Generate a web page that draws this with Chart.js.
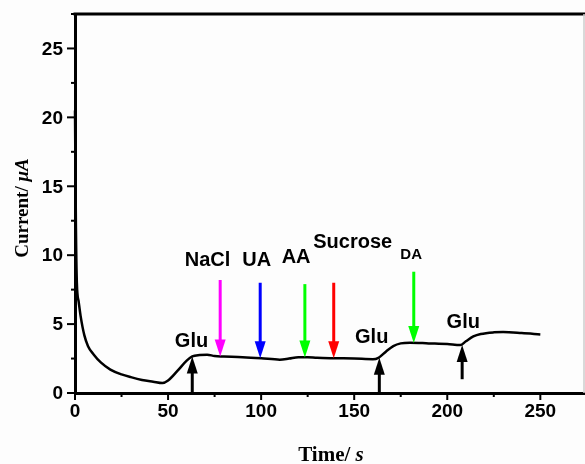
<!DOCTYPE html>
<html>
<head>
<meta charset="utf-8">
<script src="https://cdn.jsdelivr.net/npm/chart.js@4/dist/chart.umd.min.js"></script>
<style>
  html, body { margin: 0; padding: 0; background: #fdfdfd; }
  #wrap { width: 585px; height: 464px; position: relative; }
</style>
</head>
<body>
<div id="wrap"><canvas id="myChart" width="585" height="464"></canvas></div>
<script>
// curve
var tempo = [0, 0.5, 1, 2, 3, 5, 7, 10, 14, 19, 25, 30, 36, 42, 47, 50, 55, 60, 63, 67, 71, 75, 80, 90, 100, 110, 115, 120, 125, 130, 140, 150, 160, 163, 167, 171, 175, 180, 190, 200, 207, 210, 214, 218, 225, 230, 240, 250]
var corrente = [20.5, 12, 8, 6.6, 5.6, 4.2, 3.4, 2.8, 2.2, 1.7, 1.35, 1.15, 0.95, 0.82, 0.72, 0.9, 1.6, 2.35, 2.65, 2.75, 2.78, 2.68, 2.65, 2.6, 2.52, 2.42, 2.5, 2.6, 2.6, 2.55, 2.52, 2.5, 2.45, 2.55, 3.0, 3.4, 3.6, 3.65, 3.6, 3.55, 3.48, 3.75, 4.1, 4.28, 4.4, 4.42, 4.35, 4.25]

// injection arrows (time, start, end of arrow)
var setaNomes = ['NaCl', 'UA', 'AA', 'Sucrose', 'DA', 'Glu', 'Glu', 'Glu']
var setaTempo = [78, 99.5, 123.5, 139, 182, 63, 163.5, 208]
var setaInicio = [8.2, 8.0, 7.9, 8.0, 8.8, 0, 0, 1.0]
var setaFim = [2.65, 2.52, 2.58, 2.52, 3.62, 2.65, 2.55, 3.48]
var setaCores = ['#ff00ff', '#0000ff', '#00ff00', '#ff0000', '#00ff00', '#000000', '#000000', '#000000']
// label anchor (time, value) for each arrow
var rotuloTempo = [71.2, 97.6, 118.8, 149.2, 180.6, 62.6, 159.4, 208.6]
var rotuloValor = [9.6, 9.6, 9.8, 10.9, 10.0, 3.75, 4.05, 5.15]

var xTicksMaiores = [0, 50, 100, 150, 200, 250]
var yTicksMaiores = [0, 5, 10, 15, 20, 25]

var pontos = []
for (var i = 0; i < tempo.length; i++) {
    pontos.push({ x: tempo[i], y: corrente[i] })
}

var fonteTick = 'bold 19px "Liberation Sans", Arial, sans-serif'

const desenhoExtra = {
    id: 'desenhoExtra',
    afterDraw(chart) {
        const ctx = chart.ctx
        const xs = chart.scales.x
        const ys = chart.scales.y
        const area = chart.chartArea
        ctx.save()

        // frame: top line and faint right line
        ctx.strokeStyle = '#000'
        ctx.lineWidth = 3
        ctx.beginPath()
        ctx.moveTo(area.left - 1.5, area.top)
        ctx.lineTo(area.right, area.top)
        ctx.stroke()
        ctx.strokeStyle = '#cccccc'
        ctx.lineWidth = 1.5
        ctx.beginPath()
        ctx.moveTo(area.right - 1, area.top)
        ctx.lineTo(area.right - 1, area.bottom)
        ctx.stroke()

        // outward ticks, major and minor
        ctx.strokeStyle = '#000'
        ctx.lineWidth = 2
        for (var v = 0; v <= 27.5; v += 2.5) {
            var py = ys.getPixelForValue(v)
            var len = (v % 5 === 0) ? 8 : 4
            ctx.beginPath()
            ctx.moveTo(area.left, py)
            ctx.lineTo(area.left - len, py)
            ctx.stroke()
        }
        for (var t = 0; t <= 274; t += 25) {
            var px = xs.getPixelForValue(t)
            var len2 = (t % 50 === 0) ? 7 : 4
            ctx.beginPath()
            ctx.moveTo(px, area.bottom)
            ctx.lineTo(px, area.bottom + len2)
            ctx.stroke()
        }

        // tick labels
        ctx.fillStyle = '#000'
        ctx.font = fonteTick
        ctx.textAlign = 'right'
        ctx.textBaseline = 'middle'
        yTicksMaiores.forEach(function (v) {
            ctx.fillText(String(v), area.left - 12, ys.getPixelForValue(v) + 1)
        })
        ctx.textAlign = 'center'
        ctx.textBaseline = 'top'
        xTicksMaiores.forEach(function (t) {
            ctx.fillText(String(t), xs.getPixelForValue(t), area.bottom + 9)
        })

        // axis titles with italic unit
        ctx.textBaseline = 'alphabetic'
        ctx.textAlign = 'left'
        var f1 = 'bold 21px "Liberation Serif", "Times New Roman", serif'
        var f2 = 'italic bold 21px "Liberation Serif", "Times New Roman", serif'
        ctx.font = f1
        var w1 = ctx.measureText('Time/ ').width
        ctx.font = f2
        var w2 = ctx.measureText('s').width
        var x0 = 331 - (w1 + w2) / 2
        ctx.font = f1
        ctx.fillText('Time/ ', x0, 461)
        ctx.font = f2
        ctx.fillText('s', x0 + w1, 461)

        ctx.save()
        ctx.translate(28, 208)
        ctx.rotate(-Math.PI / 2)
        var f3 = 'bold 19px "Liberation Serif", "Times New Roman", serif'
        var f4 = 'italic bold 19px "Liberation Serif", "Times New Roman", serif'
        ctx.font = f3
        var w3 = ctx.measureText('Current/ ').width
        ctx.font = f4
        var w4 = ctx.measureText('\u03bcA').width
        var y0 = -(w3 + w4) / 2
        ctx.font = f3
        ctx.fillText('Current/ ', y0, 0)
        ctx.font = f4
        ctx.fillText('\u03bcA', y0 + w3, 0)
        ctx.restore()

        // arrows
        for (var k = 0; k < setaTempo.length; k++) {
            var ax = xs.getPixelForValue(setaTempo[k])
            var a0 = ys.getPixelForValue(setaInicio[k])
            var a1 = ys.getPixelForValue(setaFim[k])
            var dir = a1 > a0 ? 1 : -1
            ctx.strokeStyle = setaCores[k]
            ctx.fillStyle = setaCores[k]
            ctx.lineWidth = 3
            ctx.beginPath()
            ctx.moveTo(ax, a0)
            ctx.lineTo(ax, a1 - dir * 12)
            ctx.stroke()
            ctx.beginPath()
            ctx.moveTo(ax, a1)
            ctx.lineTo(ax - 5.5, a1 - dir * 17)
            ctx.lineTo(ax + 5.5, a1 - dir * 17)
            ctx.closePath()
            ctx.fill()
        }

        // labels
        ctx.fillStyle = '#000'
        ctx.textAlign = 'center'
        ctx.textBaseline = 'middle'
        for (var m = 0; m < setaNomes.length; m++) {
            ctx.font = setaNomes[m] === 'DA'
                ? 'bold 15px "Liberation Sans", Arial, sans-serif'
                : 'bold 20px "Liberation Sans", Arial, sans-serif'
            ctx.fillText(setaNomes[m], xs.getPixelForValue(rotuloTempo[m]), ys.getPixelForValue(rotuloValor[m]))
        }
        ctx.restore()
    }
}

const ctx = document.getElementById('myChart')
var grafico = new Chart(ctx, {
    type: 'scatter',
    data: {
        datasets: [{
            data: pontos,
            showLine: true,
            borderColor: '#000',
            borderWidth: 2.5,
            pointRadius: 0,
            cubicInterpolationMode: 'monotone',
            fill: false
        }]
    },
    plugins: [desenhoExtra],
    options: {
        responsive: false,
        animation: false,
        clip: false,
        layout: { padding: { top: 14, right: 0, left: 0, bottom: 0 } },
        plugins: { legend: { display: false }, tooltip: { enabled: false } },
        scales: {
            x: {
                type: 'linear',
                min: 0,
                max: 274,
                grid: { display: false, drawTicks: false },
                border: { display: true, color: '#000', width: 3 },
                ticks: { display: false },
                afterFit: function (s) { s.height = 71 }
            },
            y: {
                min: 0,
                max: 27.5,
                grid: { display: false, drawTicks: false },
                border: { display: true, color: '#000', width: 3 },
                ticks: { display: false },
                afterFit: function (s) { s.width = 75 }
            }
        }
    }
})
</script>
</body>
</html>
